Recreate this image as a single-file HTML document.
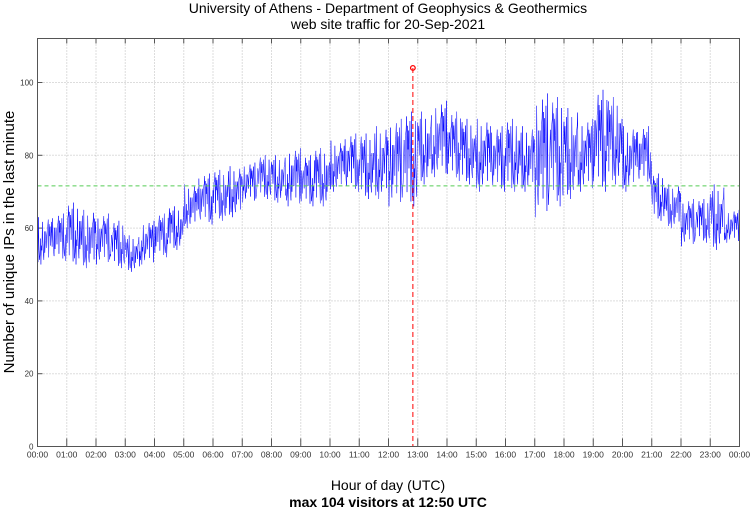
<!DOCTYPE html>
<html><head><meta charset="utf-8"><style>
body{margin:0;background:#fff;}
svg{display:block;font-family:"Liberation Sans",sans-serif;}
</style></head><body>
<svg id="c" width="750" height="511">
<text x="388" y="13" text-anchor="middle" font-size="14">University of Athens - Department of Geophysics &amp; Geothermics</text>
<text x="388" y="29" text-anchor="middle" font-size="14">web site traffic for 20-Sep-2021</text>
<text x="388" y="490" text-anchor="middle" font-size="14">Hour of day (UTC)</text>
<text x="388" y="507" text-anchor="middle" font-size="14" font-weight="bold">max 104 visitors at 12:50 UTC</text>
<text transform="translate(14,242) rotate(-90)" text-anchor="middle" font-size="15">Number of unique IPs in the last minute</text>
<g id="grid"></g><g id="series"></g><g id="marks"></g>
<rect x="37.5" y="38.5" width="702" height="408" fill="none" stroke="#555" stroke-width="1"/>
</svg>
<script>
// 30-minute buckets: low and high visitor counts
const lows  = [50,51,50,49,50,49,48,50,52,54,60,61,62,63,67,68,67,66,66,66,70,70,68,68,66,66,72,74,73,72,70,70,70,70,63,66,68,70,70,72,70,72,62,60,55,56,54,56];
const highs = [63,64,67,65,64,62,58,62,64,66,72,75,76,77,78,80,80,82,80,82,84,86,86,88,90,92,92,95,92,90,90,88,90,88,97,96,93,90,98,96,88,88,75,72,68,68,72,65];
const yTicks = [0,20,40,60,80,100];
const xTicks = ["00:00","01:00","02:00","03:00","04:00","05:00","06:00","07:00","08:00","09:00","10:00","11:00","12:00","13:00","14:00","15:00","16:00","17:00","18:00","19:00","20:00","21:00","22:00","23:00","00:00"];
const meanValue = [71.6];
const maxPoint = [12+50/60, 104];
// fixed visual texture pattern (not data)
const tex=[0.5,0.1,0.8,0.3,0.95,0.2,0.6,0.05,0.7,0.4,0.9,0.15,0.55,0.35,1,0.25,0.65,0.45,0.85,0.0,0.75,0.3,0.5,0.9,0.2,0.6,0.4,0.8,0.1,0.7];
const L=37.5,R=739.5,T=38.5,B=446.5;
const X=h=>L+h*(R-L)/24, Y=v=>B-v*3.64;
const NS="http://www.w3.org/2000/svg";
function mk(tag,at,parent){const e=document.createElementNS(NS,tag);for(const k in at)e.setAttribute(k,at[k]);document.getElementById(parent).appendChild(e);return e;}
yTicks.forEach(v=>{
 const g=mk('line',{x1:L,x2:R,y1:Y(v),y2:Y(v),stroke:'#bbb','stroke-dasharray':'1,2'},'grid');
 
 
 const t=mk('text',{x:L-4,y:Y(v)+3,'text-anchor':'end','font-size':'8',fill:'#333'},'grid');t.textContent=v;
 
 
 mk('line',{x1:L,x2:L+5,y1:Y(v),y2:Y(v),stroke:'#555'},'grid');
});
xTicks.forEach((s,i)=>{
 const g=mk('line',{x1:X(i),x2:X(i),y1:T,y2:B,stroke:'#bbb','stroke-dasharray':'1,2'},'grid');
 
 
 mk('line',{x1:X(i),x2:X(i),y1:B-8,y2:B,stroke:'#555'},'grid');
 mk('line',{x1:X(i),x2:X(i),y1:T,y2:T+5,stroke:'#555'},'grid');
 const t=mk('text',{x:X(i),y:B+11,'text-anchor':'middle','font-size':'8.5',fill:'#333'},'grid');t.textContent=s;
 
 
});
const ml=mk('line',{x1:L,x2:R,y1:Y(meanValue[0]),y2:Y(meanValue[0]),stroke:'#5c5','stroke-dasharray':'4,3'},'marks');


let pts=[],k=0;
const per=30;
for(let b=0;b<lows.length;b++){
 for(let m=0;m<per;m++){
  const f=tex[(k*7+b*3)%tex.length];k++;
  const v=lows[b]+(highs[b]-lows[b])*f;
  pts.push(X((b*30+m)/60).toFixed(2)+','+Y(v).toFixed(1));
 }
}
const pl=mk('polyline',{points:pts.join(' '),fill:'none',stroke:'#00f','stroke-width':'0.5'},'series');


const vl=mk('line',{x1:X(maxPoint[0]),x2:X(maxPoint[0]),y1:Y(maxPoint[1]),y2:B,stroke:'#f00','stroke-dasharray':'5,3'},'marks');


const ci=mk('circle',{cx:X(maxPoint[0]),cy:Y(maxPoint[1]),r:2.3,fill:'none',stroke:'#f00','stroke-width':'1.3'},'marks');


</script>
</body></html>
